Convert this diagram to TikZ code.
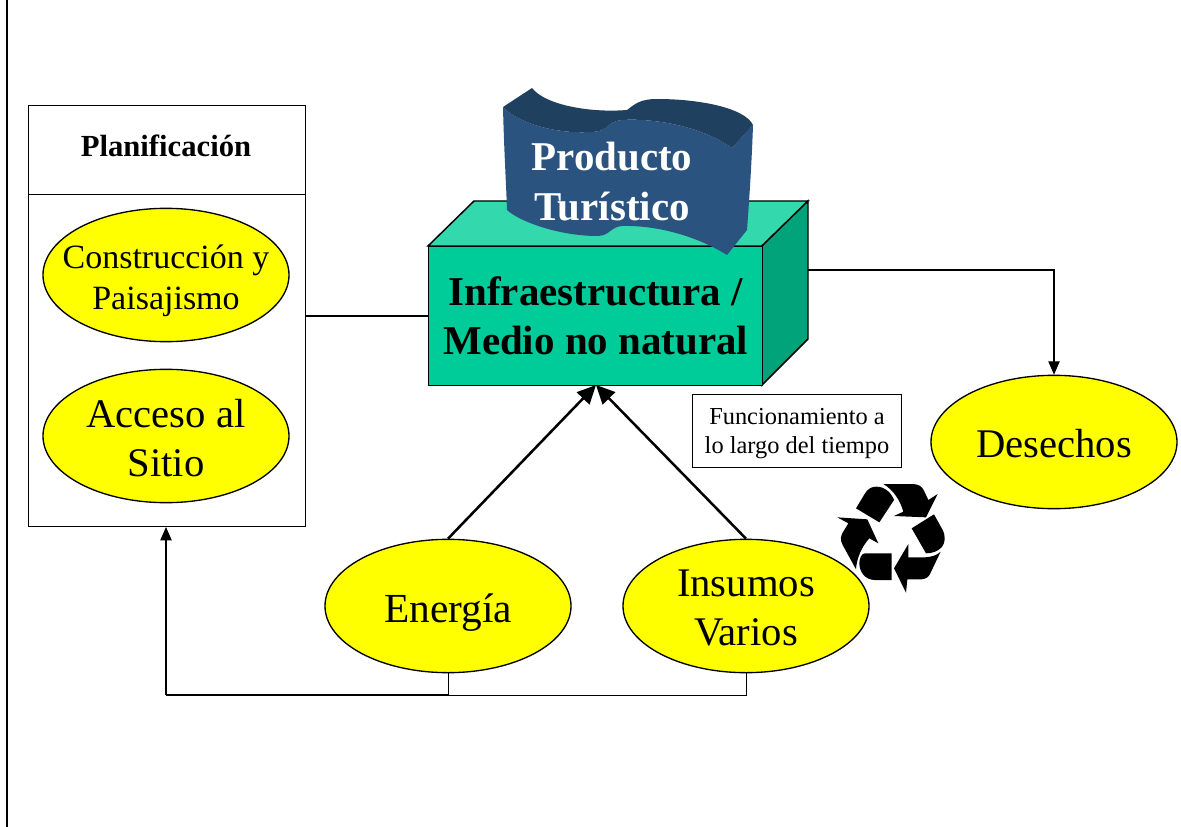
\documentclass[tikz,border=0pt]{standalone}
\usepackage{fontspec}
\setmainfont{Liberation Serif}
\usetikzlibrary{shapes.geometric,arrows.meta}
\definecolor{elly}{HTML}{FFFF00}
\definecolor{cfront}{HTML}{00CC99}
\definecolor{ctop}{HTML}{33D9AD}
\definecolor{cside}{HTML}{00A37A}
\definecolor{bfront}{HTML}{2B5380}
\definecolor{btop}{HTML}{20405F}
\newcommand{\pxfont}[2]{\fontsize{#1pt}{#2pt}\selectfont}
\tikzset{
 x=0.75pt,y=-0.75pt,
 oval/.style={draw=black,fill=elly,ellipse,line width=1pt,minimum width=184.5pt,minimum height=100pt,inner sep=0pt,align=center},
 ovaltext/.style={align=center,inner sep=0pt},
 thinline/.style={draw=black,line width=0.8pt},
 hairline/.style={draw=black,line width=0.6pt},
 heavyline/.style={draw=black,line width=1.9pt},
 tipthin/.style={-{Triangle[length=10pt,width=8.5pt]}},
 tipheavy/.style={-{Triangle[length=14pt,width=13pt]}},
 recyc/.style={fill=black,draw=none},
}
\begin{document}
\begin{tikzpicture}
\useasboundingbox (0,0) rectangle (1181,827);
\fill[white] (0,0) rectangle (1181,827);
\coordinate (ltop) at (7,0); \coordinate (lbot) at (7,827);
\draw[thinline] (ltop) -- (lbot);
% left panel
\node[draw=black,line width=1.1pt,minimum width=207.75pt,minimum height=66.75pt,inner sep=0pt,anchor=north west] (plan) at (28,105) {};
\node[font=\pxfont{23}{27}\bfseries,inner sep=0pt] (plantext) at (166,146) {Planificación};
\node[draw=black,line width=1.1pt,minimum width=207.75pt,minimum height=249pt,inner sep=0pt,anchor=north west] (panel) at (28,194) {};
\node[oval] (constr) at (166,275) {};
\node[ovaltext,font=\pxfont{25.5}{30.75}] (constrtext) at (166,281) {Construcción y\\Paisajismo};
\node[oval] (acceso) at (166,436) {};
\node[ovaltext,font=\pxfont{30.5}{36.75}] (accesotext) at (166,438) {Acceso al\\Sitio};
% cube
\filldraw[fill=ctop,draw=black,line width=1.1pt] (428,246) -- (474,201) -- (808,201) -- (762,246) -- cycle;
\filldraw[fill=cside,draw=black,line width=1.1pt] (762,246) -- (808,201) -- (808,339) -- (762,385) -- cycle;
\node[draw=black,fill=cfront,line width=1.1pt,minimum width=250.5pt,minimum height=104.25pt,inner sep=0pt,anchor=north west,align=center,font=\pxfont{30.7}{36.75}\bfseries] (cube) at (428,246) {Infraestructura /\\Medio no natural};
\coordinate (cubeside) at (808,270);
\coordinate (cubeleft) at (428,316);
\coordinate (panelright) at (305,316);
\coordinate (cubein) at (596,385);
% banner
\fill[bfront] (503,107) .. controls (504,150) and (506,180) .. (507,210)
 .. controls (520,222) and (560,236) .. (597,236)
 .. controls (610,236) and (610,227) .. (622,226)
 .. controls (660,225) and (700,238) .. (727,255)
 -- (747,230) .. controls (750,190) and (752,155) .. (753,125)
 -- (732,148) .. controls (700,125) and (650,118) .. (622,120)
 .. controls (605,122) and (610,132) .. (590,132)
 .. controls (560,134) and (520,125) .. (503,107) -- cycle;
\fill[btop] (503,107) -- (532,88) .. controls (545,105) and (590,113) .. (627,110)
 .. controls (635,104) and (640,99) .. (657,99)
 .. controls (700,99) and (745,108) .. (753,125)
 -- (732,148) .. controls (700,125) and (650,118) .. (622,120)
 .. controls (605,122) and (610,132) .. (590,132)
 .. controls (560,134) and (520,125) .. (503,107) -- cycle;
\node[text=white,align=center,font=\pxfont{30.7}{37.5}\bfseries,inner sep=0pt] (prod) at (612,182) {Producto\\Turístico};
% lower ovals
\node[oval] (energia) at (448,606) {};
\node[ovaltext,font=\pxfont{31}{37}] (energiatext) at (448,613) {Energía};
\node[oval] (insumos) at (746,606) {};
\node[ovaltext,font=\pxfont{30.5}{36.75}] (insumostext) at (746,608) {Insumos\\Varios};
\node[oval] (desechos) at (1054,442) {};
\node[ovaltext,font=\pxfont{30.5}{36.75}] (desechostext) at (1054,444) {Desechos};
% label
\node[draw=black,fill=white,line width=0.8pt,minimum width=156.75pt,minimum height=54.75pt,inner sep=0pt,anchor=north west] (func) at (692,394) {};
\node[align=center,font=\pxfont{18.3}{21.75},inner sep=0pt] (functext) at (797,434) {Funcionamiento a\\lo largo del tiempo};
% recycling symbol
\begin{scope}[shift={(820,470)},x=0.25pt,y=-0.25pt]
\fill[recyc] (108,115) -- (135,70) .. controls (145,55) and (155,50) .. (170,50) .. controls (195,50) and (215,70) .. (222,90) -- (178,157) -- cycle;
\fill[recyc] (190,42) -- (280,42) .. controls (300,44) and (305,50) .. (312,62) -- (325,90) -- (353,72) -- (318,142) -- (222,138) -- (250,125) .. controls (240,90) and (220,60) .. (190,42) -- cycle;
\fill[recyc] (275,175) -- (342,133) -- (368,180) .. controls (378,200) and (375,220) .. (365,232) .. controls (352,245) and (335,250) .. (318,250) -- cycle;
\fill[recyc] (265,222) -- (265,262) -- (310,262) .. controls (335,262) and (352,255) .. (362,245) -- (330,312) .. controls (325,322) and (318,326) .. (305,328) -- (262,328) -- (258,368) -- (222,295) -- cycle;
\fill[recyc] (215,250) -- (215,330) -- (165,330) .. controls (135,330) and (118,305) .. (118,280) .. controls (118,265) and (125,250) .. (135,250) -- cycle;
\fill[recyc] (52,142) -- (142,148) -- (175,220) -- (148,205) .. controls (125,230) and (110,265) .. (108,298) -- (68,225) .. controls (60,210) and (62,200) .. (68,188) -- (85,160) -- cycle;
\end{scope}
% connectors
\draw[thinline] (panelright) -- (cubeleft);
\draw[thinline,tipthin] (cubeside) -| (desechos.north);
\draw[heavyline,tipheavy] (energia.north) -- (cubein);
\draw[heavyline,tipheavy] (insumos.north) -- (cubein);
\coordinate (junction) at (448,695);
\coordinate (corner) at (166,695);
\coordinate (panelin) at (166,527);
\draw[hairline] (insumos.south) |- (junction);
\draw[hairline] (energia.south) -- (junction);
\draw[heavyline] (junction) -- (corner);
\draw[thinline,tipthin] (corner) -- (panelin);
\end{tikzpicture}
\end{document}
